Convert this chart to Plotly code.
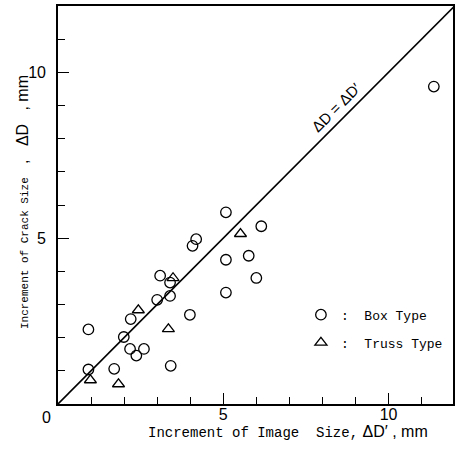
import plotly.graph_objects as go

# Box type (circles): increment of image size ΔD' vs increment of crack size ΔD (mm)
box_x = [0.92, 0.92, 1.70, 1.99, 2.20, 2.18, 2.37, 2.60, 3.00, 3.09, 3.39, 3.39,
         3.41, 3.99, 4.07, 4.18, 5.08, 5.08, 5.08, 6.15, 5.77, 6.00, 11.37]
box_y = [2.25, 1.04, 1.06, 2.02, 2.56, 1.66, 1.46, 1.66, 3.14, 3.87, 3.66, 3.26,
         1.15, 2.69, 4.77, 4.97, 5.78, 4.35, 3.36, 5.36, 4.47, 3.80, 9.57]
# Truss type (triangles)
truss_x = [0.98, 1.83, 2.43, 3.48, 3.34, 5.52]
truss_y = [0.72, 0.60, 2.83, 3.80, 2.26, 5.13]
# reference line ΔD = ΔD'
line_x = [0, 12]
line_y = [0, 12]

x_range = [0, 11.95]
y_range = [0, 12]
major_ticks = [5, 10]
major_labels = ["5", "10"]

MONO = "Liberation Mono"
SANS = "Liberation Sans"

fig = go.Figure()
fig.add_trace(go.Scatter(x=line_x, y=line_y, mode="lines",
                         line=dict(color="black", width=1.6),
                         showlegend=False, hoverinfo="skip"))
fig.add_trace(go.Scatter(x=box_x, y=box_y, mode="markers", name=":\u00a0 Box Type",
                         legendgroup="a",
                         marker=dict(symbol="circle-open", size=10.5, color="black",
                                     line=dict(width=1.3, color="black"))))
fig.add_trace(go.Scatter(x=truss_x, y=truss_y, mode="markers", name=":\u00a0 Truss Type",
                         legendgroup="b",
                         marker=dict(symbol="triangle-up-open", size=10.5, color="black",
                                     line=dict(width=1.3, color="black"))))

axis_common = dict(showgrid=False, zeroline=False, showline=True, linecolor="black",
                   linewidth=1.6, mirror=True, ticks="inside", ticklen=11, tickwidth=1.4,
                   tickcolor="black", tickvals=major_ticks, ticktext=major_labels,
                   tickfont=dict(family=SANS, size=16, color="black"),
                   minor=dict(ticks="inside", ticklen=7, tickwidth=1.3, dtick=1,
                              tickcolor="black", showgrid=False))

fig.update_xaxes(range=x_range, ticklabelstandoff=-5, **axis_common)
fig.update_yaxes(range=y_range, ticklabelstandoff=7, **axis_common)

annotations = [
    dict(text="0", xref="paper", yref="paper", x=-0.028, y=-0.033,
         xanchor="center", yanchor="middle", showarrow=False,
         font=dict(family=SANS, size=16, color="black")),
    dict(text="ΔD = ΔD′", x=8.40, y=8.95, xref="x", yref="y", textangle=-45,
         showarrow=False, font=dict(family=SANS, size=15, color="black")),
    dict(text=('Increment of Image\u00a0\u00a0Size,'
               '<span style="font-family:%s;font-size:16px">\u00a0ΔD′\u00a0,\u00a0mm</span>') % SANS,
         xref="paper", yref="paper", x=0.223, y=-0.07, xanchor="left", yanchor="middle",
         showarrow=False, font=dict(family=MONO, size=14, color="black")),
    dict(text=('Increment of Crack Size'
               '<span style="font-family:%s;font-size:16px">\u00a0\u00a0\u00a0,\u00a0\u00a0\u00a0ΔD\u00a0\u00a0\u00a0,\u00a0mm</span>') % SANS,
         xref="paper", yref="paper", x=-0.088, y=0.508, xanchor="center", yanchor="middle",
         textangle=-90, showarrow=False, font=dict(family=MONO, size=11, color="black")),
]

fig.update_layout(
    width=458, height=453,
    margin=dict(l=58, r=3, t=6, b=49),
    paper_bgcolor="white", plot_bgcolor="white",
    annotations=annotations,
    legend=dict(x=0.615, y=0.262, xanchor="left", yanchor="top",
                font=dict(family=MONO, size=13, color="black"),
                bgcolor="rgba(0,0,0,0)", tracegroupgap=8, itemwidth=30),
    showlegend=True,
)

fig.write_html("out.html")
